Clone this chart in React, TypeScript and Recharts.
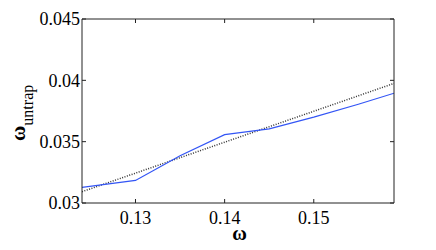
import { LineChart, Line, XAxis, YAxis } from "recharts";

const blueX = [0.124, 0.13, 0.135, 0.14, 0.145, 0.15, 0.155, 0.159];
const blueY = [0.03127, 0.03184, 0.03385, 0.03557, 0.03605, 0.037, 0.03805, 0.03895];

const fitX = [0.124, 0.159];
const fitY = [0.03092, 0.03975];

const xTicks = [0.13, 0.14, 0.15];
const yTicks = [0.03, 0.035, 0.04, 0.045];

const FONT = "'Liberation Serif', 'Times New Roman', serif";
const AXIS = "#222";

const blueData = blueX.map((x, i) => ({ x, y: blueY[i] }));
const fitData = fitX.map((x, i) => ({ x, y: fitY[i] }));

const renderXTick = (props: any) => (
  <text
    x={props.x}
    y={props.y}
    dy="0.71em"
    textAnchor="middle"
    style={{ fontFamily: FONT, fontSize: 18 }}
    fill="#000"
  >
    {String(props.payload.value)}
  </text>
);

const renderYTick = (props: any) => (
  <text
    x={props.x}
    y={props.y}
    dy="0.35em"
    textAnchor="end"
    style={{ fontFamily: FONT, fontSize: 18 }}
    fill="#000"
  >
    {String(props.payload.value)}
  </text>
);

function XTitle() {
  return (
    <text x={239.5} y={240} textAnchor="middle" style={{ fontFamily: FONT, fontWeight: "bold", fontSize: 20 }} fill="#000">
      ω
    </text>
  );
}

function YTitle() {
  return (
    <text transform="translate(24.5, 141) rotate(-90)" x={0} y={0} textAnchor="start" style={{ fontFamily: FONT }} fill="#000">
      <tspan fontWeight="bold" fontSize={21}>ω</tspan>
      <tspan fontSize={16} dy={8.5}>untrap</tspan>
    </text>
  );
}

export default function App() {
  return (
    <div style={{ position: "absolute", left: 0, top: 0, background: "#fff", fontFamily: FONT }}>
      <LineChart width={436} height={250} margin={{ top: 18, right: 41, left: 0, bottom: 0 }}>
        <XAxis
          dataKey="x"
          type="number"
          domain={[0.124, 0.159]}
          ticks={xTicks}
          allowDataOverflow
          height={47}
          tickSize={-4}
          tickMargin={12}
          stroke={AXIS}
          tick={renderXTick}
          label={<XTitle />}
        />
        <XAxis
          xAxisId="top"
          orientation="top"
          dataKey="x"
          type="number"
          domain={[0.124, 0.159]}
          ticks={xTicks}
          allowDataOverflow
          height={1}
          tickSize={-4}
          stroke={AXIS}
          tickFormatter={() => ""}
        />
        <YAxis
          type="number"
          domain={[0.03, 0.045]}
          ticks={yTicks}
          allowDataOverflow
          width={82}
          tickSize={-4}
          tickMargin={6}
          stroke={AXIS}
          tick={renderYTick}
          label={<YTitle />}
        />
        <YAxis
          yAxisId="right"
          orientation="right"
          type="number"
          domain={[0.03, 0.045]}
          ticks={yTicks}
          allowDataOverflow
          width={1}
          tickSize={-4}
          stroke={AXIS}
          tickFormatter={() => ""}
        />
        <Line
          data={fitData}
          xAxisId="top"
          yAxisId="right"
          dataKey="y"
          type="linear"
          stroke="#333"
          strokeWidth={1.5}
          strokeDasharray="1 1.5"
          dot={false}
          isAnimationActive={false}
        />
        <Line
          data={blueData}
          dataKey="y"
          type="linear"
          stroke="#3355f5"
          strokeWidth={1.2}
          dot={false}
          isAnimationActive={false}
        />
      </LineChart>
    </div>
  );
}
